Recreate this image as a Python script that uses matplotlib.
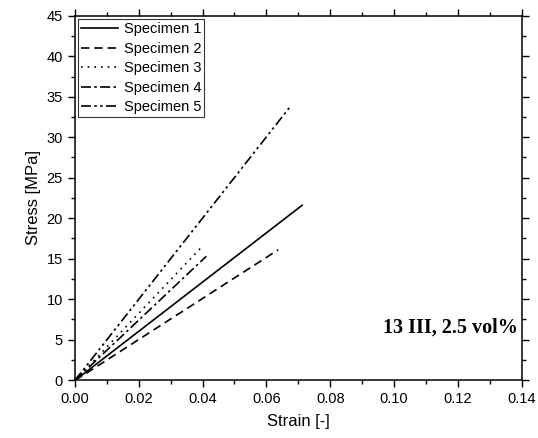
import matplotlib
matplotlib.use("Agg")
import matplotlib.pyplot as plt
from matplotlib.ticker import MultipleLocator

plt.rcParams['font.family'] = ['Liberation Sans', 'DejaVu Sans']

# strain [-] / stress [MPa]
strain_1 = [0.0, 0.002, 0.0712]
stress_1 = [0.0, 0.55, 21.6]
strain_2 = [0.0, 0.002, 0.0637]
stress_2 = [0.0, 0.45, 16.1]
strain_3 = [0.0, 0.002, 0.0401]
stress_3 = [0.0, 0.75, 16.6]
strain_4 = [0.0, 0.002, 0.0412]
stress_4 = [0.0, 0.70, 15.3]
strain_5 = [0.0, 0.002, 0.0673]
stress_5 = [0.0, 0.95, 33.7]

labels = ["Specimen 1", "Specimen 2", "Specimen 3", "Specimen 4", "Specimen 5"]
styles = ["-", (0, (5, 3)), (0, (1, 3)), (0, (6, 2, 1.5, 2)), (0, (6, 2, 1.5, 2, 1.5, 2))]

fig = plt.figure(figsize=(5.38, 4.38), dpi=100)
ax = fig.add_axes([0.139, 0.132, 0.831, 0.832])

series = [(strain_1, stress_1), (strain_2, stress_2), (strain_3, stress_3),
          (strain_4, stress_4), (strain_5, stress_5)]
for (x, y), lab, ls in zip(series, labels, styles):
    ax.plot(x, y, color="black", linestyle=ls, linewidth=1.2, label=lab)

ax.set_xlim(0, 0.14)
ax.set_ylim(0, 45)
ax.xaxis.set_major_locator(MultipleLocator(0.02))
ax.xaxis.set_minor_locator(MultipleLocator(0.01))
ax.yaxis.set_major_locator(MultipleLocator(5))
ax.yaxis.set_minor_locator(MultipleLocator(2.5))
ax.xaxis.set_major_formatter(plt.FormatStrFormatter("%.2f"))

ax.tick_params(which="both", direction="out", top=True, right=True,
               labeltop=False, labelright=False, labelsize=10.5, width=1)
ax.tick_params(which="major", length=5)
ax.tick_params(which="minor", length=3)
for sp in ax.spines.values():
    sp.set_linewidth(1.1)

ax.set_xlabel("Strain [-]", fontsize=12, labelpad=6)
ax.set_ylabel("Stress [MPa]", fontsize=12, labelpad=4)

leg = ax.legend(loc="upper left", fontsize=10.5, handlelength=2.5, frameon=True,
                fancybox=False, borderaxespad=0.25, borderpad=0.2,
                labelspacing=0.38, handletextpad=0.4)
leg.get_frame().set_edgecolor("black")
leg.get_frame().set_linewidth(0.8)

ax.text(0.84, 0.143, "13 III, 2.5 vol%", transform=ax.transAxes,
        family=["Liberation Serif", "DejaVu Serif"], fontweight="bold",
        fontsize=14.5, ha="center", va="center")

fig.savefig("out.png", dpi=100)
